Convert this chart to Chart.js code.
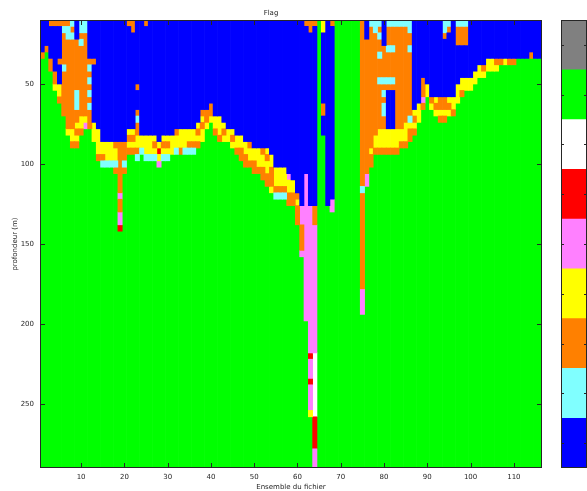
<!DOCTYPE html>
<html>
<head>
<meta charset="utf-8">
<title>Flag</title>
<script src="https://cdn.jsdelivr.net/npm/chart.js@4.4.1/dist/chart.umd.min.js"></script>
<style>
    html, body { margin: 0; padding: 0; background: #fff; }
    #wrap { position: relative; width: 587px; height: 491px; overflow: hidden; }
    #flagChart { position: absolute; left: 0; top: 0; }
    #scaleBar { position: absolute; left: 561px; top: 0; }
</style>
</head>
<body>
<div id="wrap">
    <canvas id="flagChart" width="587" height="491"></canvas>
    <canvas id="scaleBar" width="26" height="491"></canvas>
</div>
<script>
// Flags per ensemble, read from the surface down in 4 m bins, as runs of <flag><count>.
// B blue, C cyan, O orange, Y yellow, P pink, R red, W white, G green.
// Whatever is left below the last run is G.
const flagColumns = [
    'B5 O1',                              // 1
    'B4 O1',
    'O1 B5 O2',
    'O1 B7 O2 Y1',
    'O1 B5 O1 B3 Y2 O1',                  // 5
    'O1 C1 O5 C1 O7',
    'O1 C2 O14 Y1',
    'C1 O1 C1 O14 Y2 O1',
    'B3 O8 C3 O2 Y1 O1 Y1 O1',
    'C2 O1 C1 O11 Y2 O1',                 // 10
    'C2 O13 Y1 P1',
    'B6 O1 C1 O1 C1 O1 C1 O1 C1 O3',
    'B6 O1 B9 Y3',
    'B17 Y4 O1',
    'B19 Y2 O1 C1',                       // 15
    'B19 Y3 C1',
    'B19 Y3 C1',
    'B19 O1 Y2 C1 O1',
    'B19 O8 P1 O2 P2 R1',
    'B19 O3 C1 O1',                       // 20
    'O1 B16 Y1 O1 Y1 O1',
    'O2 B15 Y1 O1 Y1 O1',
    'B10 O1 B3 O1 C1 O2 Y2 O1 C1',
    'B18 Y2 C1',
    'O1 B17 Y3 C1',                       // 25
    'B18 Y3 C1',
    'B18 Y1 O1 Y1 C1',
    'B19 Y1 R1 Y1 P1',
    'B18 Y1 O1 Y1 C1',
    'B18 Y1 O1 Y1 C1',                    // 30
    'B18 Y3',
    'B17 O1 Y2 C1',
    'B17 Y3 O1',
    'B17 Y3 C1',
    'B17 Y2 O1 C1',                       // 35
    'B17 Y2 O1 C1',
    'B16 Y1 O1 Y1 O1',
    'B14 O1 Y1 O1 Y2',
    'B14 O2 Y1',
    'B13 O2 Y1',                          // 40
    'B15 Y2 O1',
    'B15 Y3 O1',
    'B16 Y1 O1 Y1',
    'B17 Y2',
    'B17 Y1 O1 Y1',                       // 45
    'B18 Y2 O1',
    'B18 Y2 O2',
    'B19 Y2 O2',
    'B19 O1 Y2 O1',
    'B20 Y2 O2',                          // 50
    'B20 Y3 O1',
    'B20 O1 Y2 O2',
    'B20 Y1 O1 Y2 O2',
    'B21 Y2 O3 Y1',
    'B23 Y3 O1 C1',                       // 55
    'B23 Y3 O1 C1',
    'B23 Y3 O1 C1',
    'B24 P1 Y2 O2',
    'B25 Y2 O2',
    'B27 O1 Y1 O3',                       // 60
    'B29 P3 O4 P1',
    'O1 B23 P23',
    'O2 B27 P23 R1 P3 R1 P4 Y1',
    'O1 B28 O3 P20 W10 R5 P3',
    '',                                   // 65
    'Y2 B11 O2 B3',
    'B29',
    'O1 B27 P2',
    '',
    '',                                   // 70
    '',
    '',
    '',
    '',
    'O26 C1 O15 P4',                      // 75
    'B3 O21 P2',
    'C1 O19 Y1 O2',
    'C2 O16 Y2 O1',
    'C1 O1 C1 O2 C1 O3 C1 O7 Y3 O1',
    'B4 O5 C1 O1 C1 O1 C2 O2 Y3 O1',      // 80
    'C1 O3 C1 O4 C1 O1 B6 Y3 O1',
    'C1 O3 C1 O4 C1 O1 B6 Y3 O1',
    'C1 O16 Y3 O1',
    'C1 O16 Y2 O1',
    'C1 O15 Y3 O1',                       // 85
    'C2 O2 C1 O10 C1 Y1 O2',
    'B14 Y1 O1 Y1 O1',
    'B13 Y3',
    'B9 O3 P1 O1',
    'B10 Y2',                             // 90
    'B12 O1 Y1',
    'B12 Y1 O1 Y1',
    'B12 O2 Y1 O1',
    'C2 O1 B9 O2 Y1 O1',
    'C1 O1 B10 Y1 O1 Y1',                 // 95
    'B12 Y2 O1',
    'C1 O3 B6 Y3',
    'C1 O3 B5 Y2 O1',
    'C1 O3 B5 Y2',
    'B9 Y2',                              // 100
    'B8 Y2',
    'B7 Y2',
    'B7 O1 Y1',
    'B6 Y2',
    'B6 Y2',                              // 105
    'B6 O1 Y1',
    'B6 O1',
    'B6 Y1',
    'B6 O1',
    'B6 O1',                              // 110
    'B6',
    'B6',
    'B6',
    'B5 O1',
    'B6',                                 // 115
    'B6'
];

const depthStart = 10;   // m, top of the first bin
const binSize = 4;       // m
const binCount = 70;

const xTicks = [10, 20, 30, 40, 50, 60, 70, 80, 90, 100, 110];
const yTicks = [50, 100, 150, 200, 250];

// colour scale, bottom to top
const flagKeys = ['B', 'C', 'O', 'Y', 'P', 'R', 'W', 'G', 'X'];
const flagColors = {
    B: '#0000ff', C: '#80ffff', O: '#ff8000', Y: '#ffff00', P: '#ff80ff',
    R: '#ff0000', W: '#ffffff', G: '#00ff00', X: '#808080'
};

const textColor = '#262626';
const fontFamily = "'DejaVu Sans', 'Liberation Sans', sans-serif";

// turn the runs into floating bars, one dataset per flag
const segments = {};
flagKeys.forEach(k => { segments[k] = []; });

flagColumns.forEach((col, i) => {
    let bin = 0;
    col.split(' ').filter(Boolean).forEach(run => {
        const key = run[0];
        const n = parseInt(run.slice(1), 10);
        segments[key].push({ x: i + 1, y: [depthStart + bin * binSize, depthStart + (bin + n) * binSize] });
        bin += n;
    });
    if (bin < binCount) {
        segments.G.push({ x: i + 1, y: [depthStart + bin * binSize, depthStart + binCount * binSize] });
    }
});

const datasets = flagKeys
    .filter(k => segments[k].length)
    .map(k => ({
        label: k,
        data: segments[k],
        backgroundColor: flagColors[k],
        borderWidth: 0,
        barPercentage: 1,
        categoryPercentage: 1,
        grouped: false
    }));

// frame plus short inward ticks on all four sides
const frameTicks = {
    id: 'frameTicks',
    afterDatasetsDraw(chart) {
        const { ctx, chartArea: a, scales: { x, y } } = chart;
        ctx.save();
        ctx.strokeStyle = textColor;
        ctx.lineWidth = 1;
        ctx.beginPath();
        xTicks.forEach(v => {
            const px = Math.round(x.getPixelForValue(v)) + 0.5;
            ctx.moveTo(px, a.bottom);
            ctx.lineTo(px, a.bottom - 5);
            ctx.moveTo(px, a.top);
            ctx.lineTo(px, a.top + 5);
        });
        yTicks.forEach(v => {
            const py = Math.round(y.getPixelForValue(v)) + 0.5;
            ctx.moveTo(a.left, py);
            ctx.lineTo(a.left + 5, py);
            ctx.moveTo(a.right, py);
            ctx.lineTo(a.right - 5, py);
        });
        ctx.stroke();
        ctx.strokeRect(Math.round(a.left) + 0.5, Math.round(a.top) + 0.5,
            Math.round(a.width) - 1, Math.round(a.height) - 1);
        ctx.restore();
    }
};

new Chart(document.getElementById('flagChart'), {
    type: 'bar',
    data: { datasets: datasets },
    options: {
        responsive: false,
        animation: false,
        devicePixelRatio: 1,
        layout: { padding: { left: 0, right: 45, top: 0, bottom: 0 } },
        plugins: {
            legend: { display: false },
            tooltip: { enabled: false },
            title: {
                display: true,
                text: 'Flag',
                color: textColor,
                font: { family: fontFamily, size: 7, weight: 'normal' },
                padding: { top: 8.8, bottom: 2.8 }
            }
        },
        scales: {
            x: {
                type: 'linear',
                min: 0.5,
                max: 116.5,
                offset: false,
                grid: { display: false, drawTicks: false, offset: false },
                border: { display: false },
                afterBuildTicks: s => { s.ticks = xTicks.map(v => ({ value: v })); },
                afterFit: s => { s.height = 23; },
                ticks: {
                    color: textColor,
                    font: { family: fontFamily, size: 7 },
                    padding: 5,
                    maxRotation: 0
                },
                title: {
                    display: true,
                    text: 'Ensemble du fichier',
                    color: textColor,
                    font: { family: fontFamily, size: 7 },
                    padding: { top: 0, bottom: 0 }
                }
            },
            y: {
                type: 'linear',
                reverse: true,
                min: depthStart,
                max: depthStart + binCount * binSize,
                beginAtZero: false,
                grid: { display: false, drawTicks: false },
                border: { display: false },
                afterBuildTicks: s => { s.ticks = yTicks.map(v => ({ value: v })); },
                afterFit: s => { s.width = 40; },
                ticks: {
                    color: textColor,
                    font: { family: fontFamily, size: 7 },
                    padding: 6
                },
                title: {
                    display: true,
                    text: 'profondeur (m)',
                    color: textColor,
                    font: { family: fontFamily, size: 7 },
                    padding: { top: 11, bottom: 0 }
                }
            }
        }
    },
    plugins: [frameTicks]
});

// colour scale on the right: one block per flag, ticks at block centres
const scaleFrame = {
    id: 'scaleFrame',
    afterDatasetsDraw(chart) {
        const { ctx, chartArea: a, scales: { y } } = chart;
        ctx.save();
        ctx.strokeStyle = textColor;
        ctx.lineWidth = 1;
        ctx.beginPath();
        flagKeys.forEach((k, i) => {
            const py = Math.round(y.getPixelForValue(i + 0.5)) + 0.5;
            ctx.moveTo(a.left, py);
            ctx.lineTo(a.left + 3, py);
            ctx.moveTo(a.right, py);
            ctx.lineTo(a.right - 3, py);
        });
        ctx.stroke();
        ctx.strokeRect(Math.round(a.left) + 0.5, Math.round(a.top) + 0.5,
            Math.round(a.width) - 1, Math.round(a.height) - 1);
        ctx.restore();
    }
};

new Chart(document.getElementById('scaleBar'), {
    type: 'bar',
    data: {
        labels: [''],
        datasets: flagKeys.map(k => ({
            label: k,
            data: [1],
            backgroundColor: flagColors[k],
            borderWidth: 0,
            barPercentage: 1,
            categoryPercentage: 1
        }))
    },
    options: {
        responsive: false,
        animation: false,
        devicePixelRatio: 1,
        layout: { padding: { left: 0, right: 0, top: 20, bottom: 23 } },
        plugins: { legend: { display: false }, tooltip: { enabled: false } },
        scales: {
            x: { display: false, stacked: true },
            y: { display: false, stacked: true, min: 0, max: flagKeys.length }
        }
    },
    plugins: [scaleFrame]
});
</script>
</body>
</html>
